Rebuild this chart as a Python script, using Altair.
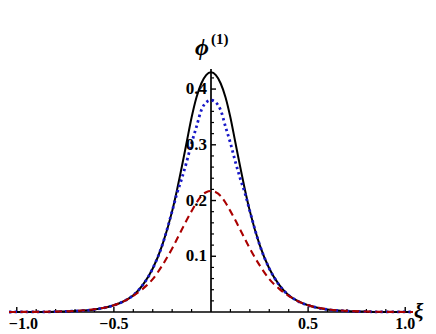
import altair as alt
import pandas as pd

# positive half of each (symmetric) curve
xi_half = [0, 0.025, 0.05, 0.075, 0.1, 0.125, 0.15, 0.175, 0.2, 0.25, 0.3, 0.35,
           0.4, 0.45, 0.5, 0.6, 0.7, 0.8, 0.9, 1.0, 1.04]
black_half = [0.430, 0.425, 0.410, 0.385, 0.349, 0.305, 0.261, 0.219, 0.181, 0.121,
              0.078, 0.049, 0.030, 0.019, 0.012, 0.0045, 0.0017, 0.0006, 0.0002, 0.0001, 0.0]
blue_half = [0.380, 0.376, 0.362, 0.332, 0.303, 0.270, 0.240, 0.213, 0.181, 0.121,
             0.078, 0.049, 0.030, 0.019, 0.012, 0.0045, 0.0017, 0.0006, 0.0002, 0.0001, 0.0]
red_half = [0.217, 0.215, 0.208, 0.196, 0.181, 0.165, 0.148, 0.131, 0.114, 0.084,
            0.059, 0.042, 0.029, 0.019, 0.012, 0.005, 0.002, 0.0008, 0.0003, 0.0001, 0.0]

x_major = [-1.0, -0.5, 0.5, 1.0]
x_major_labels = ["\u22121.0", "\u22120.5", "0.5", "1.0"]
x_minor = [-0.9, -0.8, -0.7, -0.6, -0.4, -0.3, -0.2, -0.1,
           0.1, 0.2, 0.3, 0.4, 0.6, 0.7, 0.8, 0.9]
y_major = [0.1, 0.2, 0.3, 0.4]
y_major_labels = ["0.1", "0.2", "0.3", "0.4"]
y_minor = [0.02, 0.04, 0.06, 0.08, 0.12, 0.14, 0.16, 0.18, 0.22, 0.24, 0.26, 0.28,
           0.32, 0.34, 0.36, 0.38, 0.42]


def mirror(xs, vs):
    x = [-v for v in xs[::-1]] + xs[1:]
    y = vs[::-1] + vs[1:]
    return x, y


rows = []
for name, vals in [("black", black_half), ("blue", blue_half), ("red", red_half)]:
    x, y = mirror(xi_half, vals)
    rows += [{"xi": a, "phi": b, "s": name} for a, b in zip(x, y)]
df = pd.DataFrame(rows)

X_DOM = [-1.04, 1.04]
Y_DOM = [0, 0.436]
W, H = 404, 243
X0 = 202  # pixel of xi = 0 inside plot
xsc = alt.Scale(domain=X_DOM, nice=False, zero=False)
ysc = alt.Scale(domain=Y_DOM, nice=False, zero=False)
SERIF = "Liberation Serif"


def curve(name, color, width, dash=None):
    kw = dict(color=color, strokeWidth=width, interpolate="monotone")
    if dash:
        kw["strokeDash"] = dash
    return alt.Chart(df[df.s == name]).mark_line(**kw).encode(
        x=alt.X("xi:Q", scale=xsc, axis=None),
        y=alt.Y("phi:Q", scale=ysc, axis=None),
    )


axes_df = pd.DataFrame({"x1": [X_DOM[0], 0], "x2": [X_DOM[1], 0],
                        "y1": [0, 0], "y2": [0, Y_DOM[1]]})
axis_lines = alt.Chart(axes_df).mark_rule(color="black", strokeWidth=1.7).encode(
    x=alt.X("x1:Q", scale=xsc, axis=None), x2="x2:Q",
    y=alt.Y("y1:Q", scale=ysc, axis=None), y2="y2:Q",
)

xmaj = alt.Chart(pd.DataFrame({"t": x_major, "lab": x_major_labels}))
xmin = alt.Chart(pd.DataFrame({"t": x_minor}))
ymaj = alt.Chart(pd.DataFrame({"t": y_major, "lab": y_major_labels}))
ymin = alt.Chart(pd.DataFrame({"t": y_minor}))

xmaj_ticks = xmaj.mark_rule(color="black", strokeWidth=1.4).encode(
    x=alt.X("t:Q", scale=xsc, axis=None), y=alt.value(H), y2=alt.value(H - 5))
xmin_ticks = xmin.mark_rule(color="black", strokeWidth=1.2).encode(
    x=alt.X("t:Q", scale=xsc, axis=None), y=alt.value(H), y2=alt.value(H - 3))
ymaj_ticks = ymaj.mark_rule(color="black", strokeWidth=1.4).encode(
    y=alt.Y("t:Q", scale=ysc, axis=None), x=alt.value(X0), x2=alt.value(X0 + 5))
ymin_ticks = ymin.mark_rule(color="black", strokeWidth=1.2).encode(
    y=alt.Y("t:Q", scale=ysc, axis=None), x=alt.value(X0), x2=alt.value(X0 + 3))

lab_kw = dict(font=SERIF, fontWeight="bold", fontSize=17, color="black")
xlab_kw = dict(font=SERIF, fontWeight="bold", fontSize=16, color="black")
xlabels = xmaj.transform_filter("datum.t > -1").mark_text(
    baseline="alphabetic", align="center", dy=17, **xlab_kw).encode(
    x=alt.X("t:Q", scale=xsc, axis=None), y=alt.value(H), text="lab:N")
xlabel_first = xmaj.transform_filter("datum.t <= -1").mark_text(
    baseline="alphabetic", align="left", dy=17, dx=-8, **xlab_kw).encode(
    x=alt.X("t:Q", scale=xsc, axis=None), y=alt.value(H), text="lab:N")
ylabels = ymaj.mark_text(baseline="middle", align="right", dx=-4, **lab_kw).encode(
    y=alt.Y("t:Q", scale=ysc, axis=None), x=alt.value(X0), text="lab:N")

one = pd.DataFrame({"a": [0]})
phi_t = alt.Chart(one).mark_text(text="\u03d5", font="Liberation Serif, DejaVu Serif",
                                 fontStyle="italic", fontWeight="bold", fontSize=24,
                                 align="center", baseline="alphabetic").encode(
    x=alt.value(193), y=alt.value(-14))
sup_t = alt.Chart(one).mark_text(text="(1)", font=SERIF, fontWeight="bold",
                                 fontSize=15, align="left",
                                 baseline="alphabetic").encode(
    x=alt.value(202), y=alt.value(-25))
xi_t = alt.Chart(one).mark_text(text="\u03be", font=SERIF, fontStyle="italic",
                                fontWeight="bold", fontSize=21, align="left",
                                baseline="alphabetic").encode(
    x=alt.value(405), y=alt.value(249))

chart = alt.layer(
    axis_lines, xmaj_ticks, xmin_ticks, ymaj_ticks, ymin_ticks,
    curve("black", "#000000", 2.0),
    curve("blue", "#1818c8", 2.8, [2.4, 3.2]),
    curve("red", "#aa0000", 2.1, [7, 4.5]),
    xlabels, xlabel_first, ylabels, phi_t, sup_t, xi_t,
).properties(
    width=W, height=H,
    padding={"left": 1, "top": 61, "right": 15, "bottom": 22},
    autosize=alt.AutoSizeParams(type="none"),
).configure_view(stroke=None)

chart.save("out.html", embed_options={"renderer": "svg", "actions": False})
